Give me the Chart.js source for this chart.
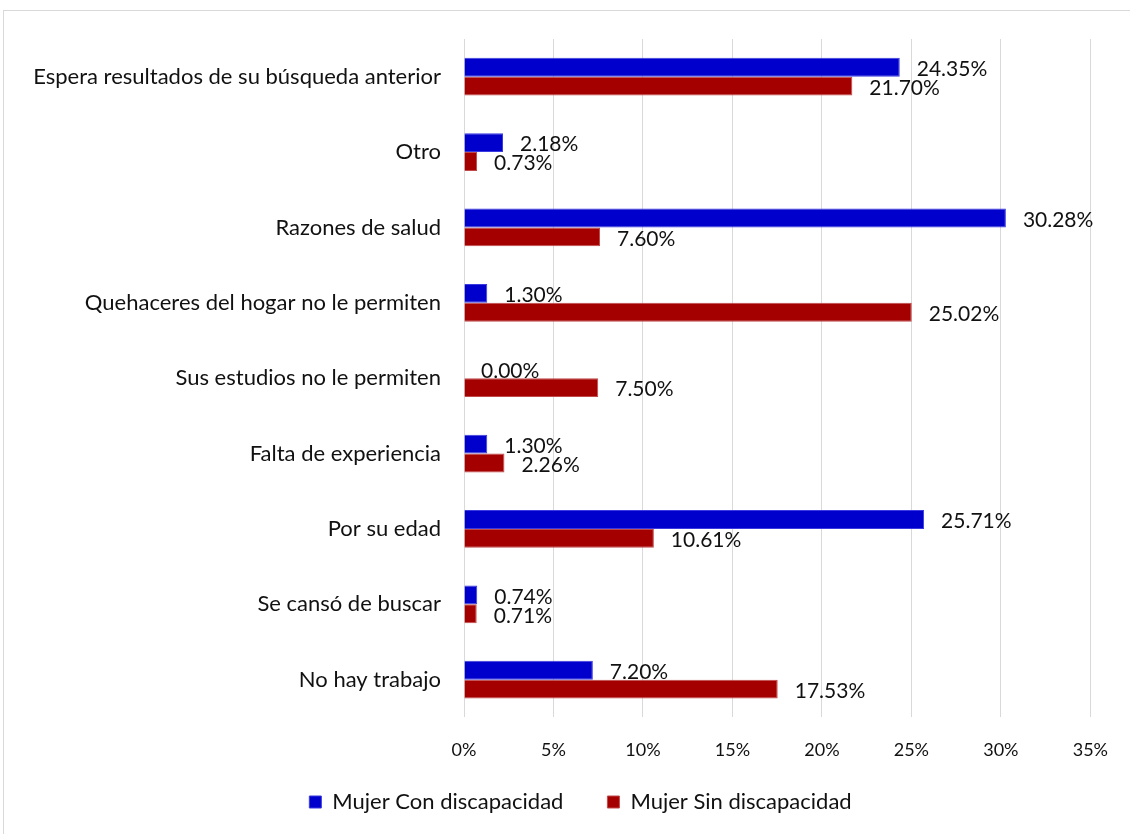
<!DOCTYPE html>
<html>
<head>
<meta charset="utf-8">
<script src="https://cdn.jsdelivr.net/npm/chart.js@4.4.1/dist/chart.umd.min.js"></script>
<style>
  html, body { margin: 0; padding: 0; background: #fff; overflow: hidden; }
  #frame { position: absolute; left: 3px; top: 10px; width: 1140px; height: 840px; border: 1px solid #d9d9d9; box-sizing: border-box; }
  #wrap { position: absolute; left: 0; top: 0; width: 1130px; height: 834px; }
</style>
</head>
<body>
<div id="frame"></div>
<div id="wrap"><canvas id="barChart" width="1130" height="834"></canvas></div>
<script>
// categorias (de arriba hacia abajo)
const categorias = [
    'Espera resultados de su búsqueda anterior',
    'Otro',
    'Razones de salud',
    'Quehaceres del hogar no le permiten',
    'Sus estudios no le permiten',
    'Falta de experiencia',
    'Por su edad',
    'Se cansó de buscar',
    'No hay trabajo'
];

// porcentajes por serie
const conDiscapacidad = [24.35, 2.18, 30.28, 1.30, 0.00, 1.30, 25.71, 0.74, 7.20];
const sinDiscapacidad = [21.70, 0.73, 7.60, 25.02, 7.50, 2.26, 10.61, 0.71, 17.53];

const nombresSeries = ['Mujer Con discapacidad', 'Mujer Sin discapacidad'];

const FONT = 'Lato, "Liberation Sans", sans-serif';

// etiquetas de valor a la derecha de cada barra
const etiquetasValor = {
    id: 'etiquetasValor',
    afterDatasetsDraw(chart) {
        const ctx = chart.ctx;
        ctx.save();
        ctx.font = '21px ' + FONT;
        ctx.fillStyle = '#111';
        ctx.textAlign = 'left';
        ctx.textBaseline = 'middle';
        chart.data.datasets.forEach((ds, i) => {
            chart.getDatasetMeta(i).data.forEach((bar, j) => {
                ctx.fillText(ds.data[j].toFixed(2) + '%', bar.x + 17, bar.y + 2);
            });
        });
        ctx.restore();
    }
};

// colocar la leyenda como en el original (más a la derecha y más arriba)
const moverLeyenda = {
    id: 'moverLeyenda',
    afterLayout(chart) {
        const lg = chart.legend;
        if (lg) {
            lg.left += 35;
            lg.right += 35;
            lg.top -= 36;
            lg.bottom -= 36;
        }
    }
};

const ctx = document.getElementById('barChart').getContext('2d');
new Chart(ctx, {
    type: 'bar',
    data: {
        labels: categorias,
        datasets: [{
            label: nombresSeries[0],
            data: conDiscapacidad,
            backgroundColor: '#0000cc',
            borderColor: '#3a3ae0',
            borderWidth: 1,
            categoryPercentage: 0.5,
            barPercentage: 1
        }, {
            label: nombresSeries[1],
            data: sinDiscapacidad,
            backgroundColor: '#a50000',
            borderColor: '#c04a4a',
            borderWidth: 1,
            categoryPercentage: 0.5,
            barPercentage: 1
        }]
    },
    options: {
        indexAxis: 'y',
        responsive: false,
        animation: false,
        layout: { padding: { top: 39, right: 39, left: 0, bottom: -25 } },
        plugins: {
            legend: {
                position: 'bottom',
                labels: {
                    font: { family: FONT, size: 22 },
                    color: '#111',
                    boxWidth: 12,
                    boxHeight: 12,
                    padding: 44
                }
            },
            tooltip: { enabled: false }
        },
        scales: {
            x: {
                min: 0,
                max: 35,
                ticks: {
                    stepSize: 5,
                    padding: 22,
                    color: '#111',
                    font: { family: FONT, size: 18 },
                    callback: v => v + '%'
                },
                grid: { color: '#d9d9d9', drawTicks: false },
                border: { display: false }
            },
            y: {
                afterFit: scale => { scale.width = 464; },
                ticks: {
                    padding: 23,
                    color: '#111',
                    font: { family: FONT, size: 22 }
                },
                grid: { display: false, drawTicks: false },
                border: { display: false }
            }
        }
    },
    plugins: [etiquetasValor, moverLeyenda]
});
</script>
</body>
</html>
